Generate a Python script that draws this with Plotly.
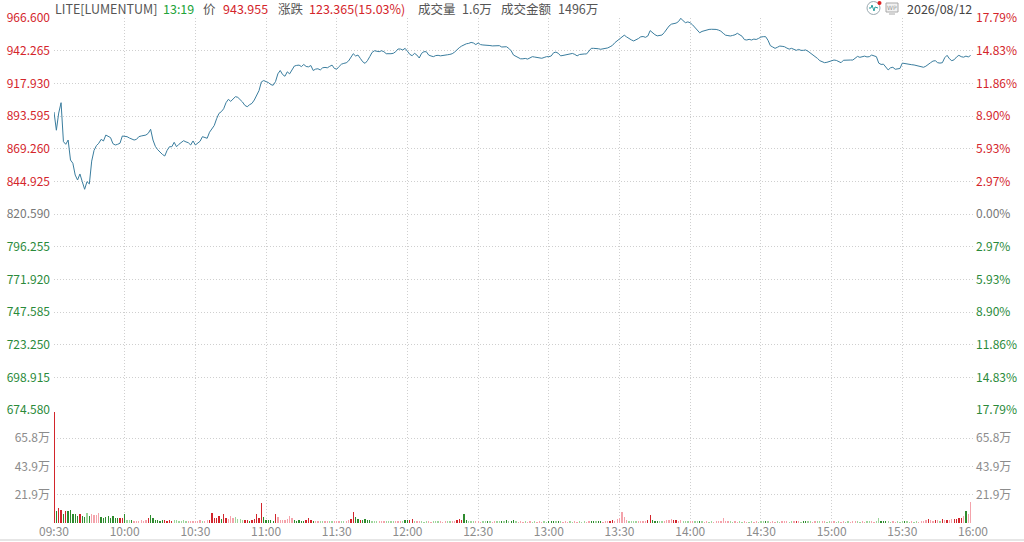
import plotly.graph_objects as go

# ---------------- data ----------------
PRE_CLOSE = 820.590
TIME_LABELS = ["09:30", "10:00", "10:30", "11:00", "11:30", "12:00", "12:30",
               "13:00", "13:30", "14:00", "14:30", "15:00", "15:30", "16:00"]
PRICE_TICKS = [674.580, 698.915, 723.250, 747.585, 771.920, 796.255, 820.590,
               844.925, 869.260, 893.595, 917.930, 942.265, 966.600]
VOL_TICKS = [21.9, 43.9, 65.8]
VOL_MAX = 87.7  # 万

# minute close prices, 09:30 .. 15:59
PRICE = [
    896.6, 883.0, 895.8, 903.5, 874.5, 872.5, 875.7, 860.8, 858.4, 849.6, 845.9, 850.4, 844.7, 839.0, 844.7,
    843.0, 860.0, 868.0, 871.5, 873.3, 876.2, 875.0, 879.4, 878.2, 877.5, 873.0, 872.0, 872.5, 873.3, 878.7,
    878.7, 878.2, 877.2, 876.5, 875.7, 876.2, 878.2, 878.7, 879.0, 879.4, 880.7, 883.7, 875.7, 871.0, 868.5,
    866.3, 865.0, 863.8, 868.0, 870.7, 870.7, 874.0, 870.7, 872.5, 873.8, 875.2, 874.3, 873.7, 872.0, 875.0,
    872.0, 873.5, 874.8, 878.2, 877.5, 877.0, 881.5, 884.0, 886.5, 891.5, 895.5, 896.8, 899.0, 903.5, 906.0,
    904.5, 906.0, 908.0, 907.5, 906.0, 904.0, 901.5, 900.5, 902.0, 903.0, 905.5, 909.5, 912.5, 919.0, 920.0,
    919.2, 918.5, 917.0, 916.5, 919.2, 925.0, 927.5, 924.5, 923.2, 926.5, 925.0, 928.0, 930.8, 931.3, 931.5,
    930.4, 932.0, 930.5, 930.2, 931.2, 927.5, 928.5, 928.8, 927.9, 929.5, 929.8, 929.5, 930.6, 931.5, 929.0,
    928.5, 930.5, 932.2, 932.8, 933.2, 934.6, 937.0, 940.0, 938.3, 939.0, 936.5, 934.0, 932.8, 934.8, 937.8,
    941.0, 942.2, 941.8, 941.5, 942.2, 941.5, 940.0, 939.8, 940.0, 940.3, 941.5, 943.5, 943.5, 942.8, 944.0,
    941.8, 939.5, 938.5, 940.3, 939.0, 936.8, 940.3, 941.5, 941.5, 939.0, 938.3, 937.8, 938.6, 938.8, 938.4,
    938.5, 938.8, 939.2, 939.5, 940.0, 941.2, 943.0, 944.5, 945.7, 946.8, 947.4, 947.7, 948.4, 948.0, 946.8,
    948.0, 946.8, 946.5, 946.5, 946.4, 946.1, 945.8, 945.8, 946.1, 946.0, 945.0, 944.9, 945.2, 944.0, 942.2,
    939.0, 938.2, 937.4, 936.2, 936.2, 936.5, 936.0, 936.7, 937.8, 937.5, 937.2, 936.9, 936.6, 937.2, 937.8,
    937.8, 938.3, 940.7, 941.2, 940.3, 938.4, 938.7, 939.0, 939.5, 939.9, 940.2, 939.5, 938.4, 939.4, 939.8,
    939.8, 939.8, 941.8, 944.0, 944.0, 944.0, 943.7, 943.3, 943.6, 943.9, 944.3, 945.2, 946.2, 948.2, 949.6,
    951.1, 952.5, 953.8, 952.5, 951.2, 950.3, 949.5, 950.3, 951.3, 952.6, 952.8, 952.2, 953.2, 957.2, 955.5,
    954.2, 953.3, 953.5, 953.9, 955.8, 958.5, 960.6, 962.0, 962.4, 962.8, 963.9, 966.4, 964.5, 963.1, 963.7,
    963.0, 961.5, 959.3, 957.5, 955.6, 956.6, 957.3, 957.7, 958.1, 958.2, 958.2, 958.1, 957.6, 956.8, 955.2,
    953.8, 953.5, 953.2, 953.6, 954.1, 955.2, 954.2, 953.0, 950.5, 950.2, 950.7, 950.2, 950.9, 950.6, 951.4,
    952.4, 952.7, 952.7, 950.0, 946.0, 945.0, 944.0, 944.8, 945.7, 945.5, 945.2, 944.2, 943.4, 944.0, 943.0,
    942.5, 943.2, 942.5, 942.5, 942.8, 941.8, 940.6, 939.1, 937.8, 936.5, 934.8, 933.8, 933.3, 933.6, 934.1,
    934.6, 935.3, 935.0, 934.3, 933.3, 935.1, 935.3, 935.3, 935.3, 935.3, 937.0, 938.0, 937.3, 937.8, 938.2,
    937.6, 937.8, 939.0, 938.6, 937.8, 933.0, 932.0, 932.2, 929.8, 927.9, 929.5, 929.9, 928.4, 928.8, 929.0,
    933.0, 932.6, 932.3, 932.0, 931.8, 931.6, 931.2, 930.8, 930.3, 929.9, 930.7, 932.3, 933.3, 934.5, 934.8,
    933.3, 933.0, 933.3, 937.0, 938.8, 936.2, 934.8, 935.5, 937.5, 938.8, 937.8, 937.4, 938.2, 937.6, 938.7,
]

# minute volumes in 万 shares
VOLUME = [
    86, 9.5, 11.6, 10, 7.3, 9.5, 9.5, 10, 7.3, 6.8, 5.4, 7.3, 5.4, 4.6, 8.1, 5.4, 6.8, 6.2, 6.2, 8.1, 4.6, 4.1, 4.6, 5.4, 4.1, 5.4, 4.1, 3.5, 3.5, 4.1,
    6.8, 2.4, 2.0, 2.4, 1.6, 1.6, 1.8, 2.0, 1.6, 2.4, 3.5, 6.0, 4.1, 2.4, 2.0, 1.6, 2.0, 2.0, 1.6, 2.0, 1.8, 2.4, 2.0, 1.6, 1.4, 2.0, 1.6, 1.4, 1.6, 1.4,
    1.6, 1.4, 2.0, 1.6, 1.4, 2.0, 2.4, 8.0, 3.5, 4.1, 5.4, 3.0, 6.8, 3.5, 3.0, 5.4, 4.0, 4.8, 3.0, 3.2, 2.4, 2.4, 2.0, 1.6, 2.0, 3.0, 6.8, 4.0, 15.4, 4.8,
    2.4, 2.0, 2.4, 1.6, 6.8, 4.5, 2.4, 2.0, 2.4, 3.0, 5.4, 3.5, 2.4, 1.6, 2.0, 1.6, 1.4, 2.4, 3.5, 2.0, 1.4, 1.2, 1.4, 1.2, 1.4, 1.2, 1.6, 1.4, 1.2, 1.4,
    1.4, 1.2, 1.4, 1.6, 1.4, 2.0, 3.0, 8.6, 5.0, 3.0, 2.4, 2.4, 3.2, 2.0, 2.4, 1.6, 1.4, 1.6, 1.2, 1.4, 1.2, 1.4, 1.2, 1.4, 1.2, 1.4, 1.6, 1.2, 1.4, 2.4,
    2.4, 2.0, 2.8, 1.2, 1.2, 1.4, 1.2, 1.0, 1.2, 1.2, 1.0, 1.2, 1.4, 1.2, 1.2, 1.0, 1.2, 1.4, 1.2, 1.4, 1.6, 2.0, 3.2, 2.4, 7.3, 2.4, 1.6, 1.4, 1.2, 1.2,
    1.2, 1.0, 1.2, 1.4, 1.6, 1.2, 1.0, 1.2, 1.4, 1.2, 1.8, 1.4, 2.0, 1.2, 1.6, 2.4, 1.4, 1.0, 1.2, 1.0, 1.2, 1.0, 1.2, 1.0, 1.2, 1.0, 1.2, 1.0, 1.2, 1.0,
    1.6, 1.4, 1.6, 1.2, 1.4, 1.2, 1.0, 1.2, 1.0, 1.2, 1.0, 1.2, 1.0, 1.2, 1.0, 1.2, 1.0, 1.2, 1.4, 1.6, 1.2, 1.4, 1.2, 1.0, 1.2, 1.4, 1.6, 2.0, 1.6, 3.0,
    3.5, 8.6, 5.0, 2.4, 1.6, 1.4, 1.2, 1.4, 1.2, 1.4, 1.6, 1.4, 2.4, 5.9, 2.0, 1.6, 1.4, 1.2, 1.4, 1.6, 2.0, 2.4, 3.2, 2.4, 2.0, 1.6, 2.0, 1.4, 1.2, 1.4,
    1.6, 1.4, 1.2, 1.4, 1.6, 1.2, 1.0, 1.2, 1.0, 1.2, 1.0, 1.2, 1.4, 1.6, 4.0, 1.6, 1.4, 1.2, 1.0, 1.2, 1.0, 1.2, 1.0, 1.2, 1.0, 1.0, 1.2, 1.0, 1.2, 1.0,
    1.2, 1.4, 1.4, 1.2, 1.0, 1.2, 1.0, 1.2, 1.0, 1.2, 1.4, 1.2, 1.0, 1.2, 1.4, 1.6, 1.2, 1.0, 1.6, 1.8, 1.4, 1.2, 1.0, 1.2, 1.4, 1.2, 1.4, 1.2, 1.0, 1.2,
    1.0, 1.2, 1.0, 1.2, 1.0, 1.2, 1.0, 1.2, 1.0, 1.2, 1.4, 1.2, 1.0, 1.2, 1.0, 1.2, 1.4, 1.2, 1.0, 1.6, 4.0, 1.4, 1.2, 1.4, 1.2, 1.0, 1.2, 1.0, 1.2, 1.0,
    1.2, 1.4, 1.2, 1.0, 1.2, 1.0, 1.2, 1.0, 1.4, 1.6, 2.4, 2.8, 2.4, 1.6, 2.4, 2.0, 1.4, 2.8, 2.4, 2.4, 2.0, 2.8, 3.2, 3.2, 3.5, 4.0, 5.4, 9.5, 6.8, 16.2,
]

# bar colour kind per minute: R = red, r = light red, G = green, g = light green
VOL_KIND = (
    "RGRRGRGGGGGRGGgGrrrrGGGGGGGGRR"
    "GggGrrrrrrRGGGGGGRRRRggggggrrr"
    "rrrgrrRRRRRGRRrrrgggg" "RRGRRRRRG"
    "GGGGRrrrrrrrGGGGGRRRGrrggrrggr"
    "rrggrrRRGGRGGGGgggrrrggggrrrgG"
    "GRRgrrgggrrgggrrrggrrRRRGGgggr"
    "rrggGgrrggGgGgGGgrrrgrrggrrrgg"
    "GGGgGgrrrggrrgggrrGGgGGrrrRRrr"
    "rrrrggggrrrrRRGGGggrrrrRRrrggg"
    "rrggGgrrggrrrrrrrggrrggrrggrrg"
    "ggGgrrrggrrrggrRrgGGggrrggrrgg"
    "rrggrrggrrrggrrggrrggGGGggrrgg"
    "gGggrggrrrrRrrRrgRrRrrRRRRrGrr"
)
KIND_COLORS = {"R": "#d2252b", "r": "#f4a3ab", "G": "#2e8b2e", "g": "#9ed59b"}

HEADER_ITEMS = [  # (left pixel, text, colour)
    (54, "LITE[LUMENTUM]", "#555555"),
    (162, "13:19", "#22a33a"),
    (202, "价", "#555555"),
    (222, "943.955", "#d4252b"),
    (277, "涨跌", "#555555"),
    (308, "123.365(15.03%)", "#d4252b"),
    (417, "成交量", "#555555"),
    (461, "1.6万", "#555555"),
    (500, "成交金额", "#555555"),
    (557, "1496万", "#555555"),
]
DATE_TEXT = "2026/08/12"

# ---------------- geometry ----------------
W, H = 1024, 542
L, R, T, B = 54, 51, 18, 19
PLOT_W = W - L - R
PLOT_H = H - T - B
SPLIT = (H - B - 410) / PLOT_H  # boundary price / volume panes

RED, GREEN, GRAY = "#d4252b", "#2a8a3a", "#777777"
FONT = "Noto Sans CJK SC"

minutes = list(range(len(PRICE)))


def px_x(px):
    return (px - L) / PLOT_W


def px_y(py):
    return (H - B - py) / PLOT_H


def price_color(p):
    if abs(p - PRE_CLOSE) < 1e-6:
        return GRAY
    return RED if p > PRE_CLOSE else GREEN


left_price_text = [f'<span style="color:{price_color(p)}">{p:.3f}</span>' for p in PRICE_TICKS]
right_price_text = [
    f'<span style="color:{price_color(p)}">{abs(p - PRE_CLOSE) / PRE_CLOSE * 100:.2f}%</span>'
    for p in PRICE_TICKS
]
vol_text = [f"{v}万" for v in VOL_TICKS]
bar_colors = [KIND_COLORS[k] for k in VOL_KIND]

fig = go.Figure()
fig.add_trace(go.Bar(x=minutes, y=VOLUME, marker=dict(color=bar_colors, line=dict(width=0)),
                     width=0.55, xaxis="x", yaxis="y2", hoverinfo="skip"))
fig.add_trace(go.Scatter(x=minutes, y=PRICE, mode="lines", line=dict(color="#3a7d9e", width=1),
                         xaxis="x", yaxis="y", hoverinfo="skip"))
# invisible helpers so the right-hand axes are drawn
fig.add_trace(go.Scatter(x=minutes, y=PRICE, mode="lines", line=dict(width=0), opacity=0,
                         xaxis="x", yaxis="y3", hoverinfo="skip"))
fig.add_trace(go.Scatter(x=minutes, y=VOLUME, mode="lines", line=dict(width=0), opacity=0,
                         xaxis="x", yaxis="y4", hoverinfo="skip"))

grid = dict(showgrid=True, gridcolor="#cfcfcf", griddash="1px,2px", gridwidth=1)
tickfont = dict(family=FONT, size=12, color="#8c8c8c")
common = dict(automargin=False, ticks="", zeroline=False, showline=False, fixedrange=True)

fig.update_layout(
    template="none",
    width=W, height=H, autosize=False,
    margin=dict(l=L, r=R, t=T, b=B, pad=0),
    paper_bgcolor="white", plot_bgcolor="white",
    showlegend=False, bargap=0,
    xaxis=dict(domain=[0, 1], anchor="y2", range=[0, 390],
               tickvals=[i * 30 for i in range(len(TIME_LABELS))], ticktext=TIME_LABELS,
               tickfont=tickfont, **common, **grid),
    yaxis=dict(domain=[SPLIT, 1], anchor="x", range=[PRICE_TICKS[0], PRICE_TICKS[-1]],
               tickvals=PRICE_TICKS, ticktext=left_price_text, tickfont=tickfont,
               ticklabelstandoff=3, **common, **grid),
    yaxis3=dict(overlaying="y", side="right", anchor="x", range=[PRICE_TICKS[0], PRICE_TICKS[-1]],
                tickvals=PRICE_TICKS, ticktext=right_price_text, tickfont=tickfont,
                ticklabelstandoff=2, showgrid=False, **common),
    yaxis2=dict(domain=[0, SPLIT], anchor="x", range=[0, VOL_MAX],
                tickvals=VOL_TICKS, ticktext=vol_text, tickfont=tickfont,
                ticklabelstandoff=3, **common, **grid),
    yaxis4=dict(overlaying="y2", side="right", anchor="x", range=[0, VOL_MAX],
                tickvals=VOL_TICKS, ticktext=vol_text, tickfont=tickfont,
                ticklabelstandoff=2, showgrid=False, **common),
)

annotations = []
for px, txt, col in HEADER_ITEMS:
    annotations.append(dict(xref="paper", yref="paper", x=px_x(px), y=px_y(9), text=txt,
                            xanchor="left", yanchor="middle", showarrow=False, borderpad=0,
                            font=dict(family=FONT, size=12.5, color=col)))
annotations.append(dict(xref="paper", yref="paper", x=px_x(973), y=px_y(9), text=DATE_TEXT,
                        xanchor="right", yanchor="middle", showarrow=False, borderpad=0,
                        font=dict(family=FONT, size=12.5, color="#444444")))
annotations.append(dict(xref="paper", yref="paper", x=px_x(892), y=px_y(7.5), text="WP",
                        xanchor="center", yanchor="middle", showarrow=False, borderpad=0,
                        font=dict(family="DejaVu Sans", size=6, color="#999999")))
fig.update_layout(annotations=annotations)

shapes = [
    # pulse icon
    dict(type="circle", xref="paper", yref="paper", x0=px_x(867), x1=px_x(880), y0=px_y(14.5), y1=px_y(1.5),
         line=dict(color="#9aa9b0", width=1), fillcolor="white"),
    dict(type="path", xref="paper", yref="paper",
         path=(f"M {px_x(869)} {px_y(8)} L {px_x(871)} {px_y(8)} L {px_x(872)} {px_y(5)} "
               f"L {px_x(874)} {px_y(11)} L {px_x(875)} {px_y(7)} L {px_x(878)} {px_y(8)}"),
         line=dict(color="#2a9d9d", width=1)),
    dict(type="circle", xref="paper", yref="paper", x0=px_x(877.5), x1=px_x(881.5), y0=px_y(5), y1=px_y(1),
         line=dict(color="#e02020", width=0), fillcolor="#e02020"),
    # monitor icon
    dict(type="rect", xref="paper", yref="paper", x0=px_x(886), x1=px_x(898), y0=px_y(12), y1=px_y(3),
         line=dict(color="#a8a8a8", width=1), fillcolor="#f2f2f2"),
    dict(type="line", xref="paper", yref="paper", x0=px_x(889), x1=px_x(895), y0=px_y(14), y1=px_y(14),
         line=dict(color="#a8a8a8", width=1)),
    # faint page rule at bottom
    dict(type="line", xref="paper", yref="paper", x0=px_x(0), x1=px_x(W), y0=px_y(540), y1=px_y(540),
         line=dict(color="#e6e6e6", width=2)),
]
fig.update_layout(shapes=shapes)

fig.write_html("out.html", config={"displayModeBar": False, "staticPlot": True},
               post_script="document.body.style.margin='0';document.body.style.overflow='hidden';")
